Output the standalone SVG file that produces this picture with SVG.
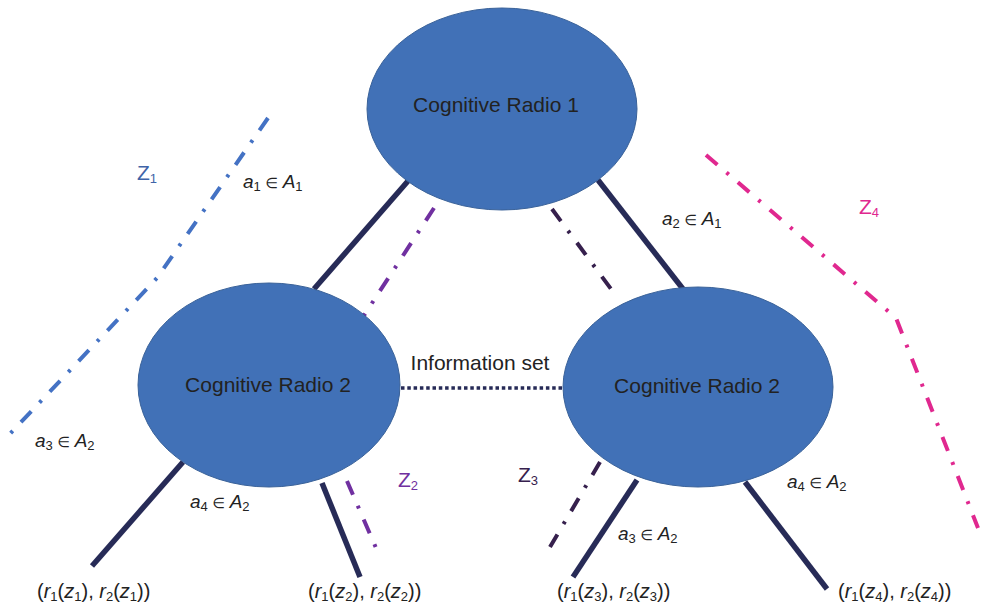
<svg xmlns="http://www.w3.org/2000/svg" width="984" height="608" viewBox="0 0 984 608">
  <style>
    .node { fill: #4171b7; stroke: #3a6299; stroke-width: 1; }
    .name { font-family: "Liberation Sans", Arial, sans-serif; font-size: 21px; fill: #222; text-anchor: middle; }
    .link { stroke: #272b57; stroke-width: 5.5; fill: none; }
    .info { stroke: #272b57; stroke-width: 3.5; stroke-dasharray: 3.5 2.8; fill: none; }
    .zone { stroke-width: 4; stroke-dasharray: 15 12 3 12; fill: none; }
    .lbl { font-family: "Liberation Sans", Arial, sans-serif; font-size: 19px; fill: #222; }
    .pay { font-family: "Liberation Sans", Arial, sans-serif; font-size: 20px; fill: #222; }
    .zl { font-family: "Liberation Sans", Arial, sans-serif; font-size: 21px; }
    .it { font-style: italic; }
    .sub { font-size: 13px; }
    .el { font-family: "DejaVu Sans", sans-serif; font-size: 14.5px; }
  </style>

  <!-- connectors: game-tree branches, zone boundaries, information set -->
  <g id="connectors">
    <line class="link" x1="408" y1="181" x2="314" y2="289"/>
    <line class="link" x1="598" y1="180" x2="683" y2="289"/>
    <line class="link" x1="183" y1="462" x2="92" y2="566"/>
    <line class="link" x1="322" y1="483" x2="360" y2="577"/>
    <line class="link" x1="637" y1="480" x2="573" y2="577"/>
    <line class="link" x1="745" y1="482" x2="827" y2="589"/>

    <line class="info" x1="401" y1="388" x2="564" y2="388"/>

    <polyline class="zone" stroke="#4472c4" points="268,118 157,278 8,436"/>
    <line class="zone" stroke="#7030a0" x1="434" y1="208" x2="361" y2="320"/>
    <line class="zone" stroke="#7030a0" x1="347" y1="481" x2="376" y2="548"/>
    <line class="zone" stroke="#36204d" x1="552" y1="209" x2="611" y2="289"/>
    <line class="zone" stroke="#36204d" x1="600" y1="462" x2="550" y2="547"/>
    <polyline class="zone" stroke="#e0288f" points="706,155 896,318 978,528"/>
  </g>

  <g id="cr1">
    <ellipse class="node" cx="502" cy="109" rx="135" ry="101"/>
    <text class="name" x="496" y="112">Cognitive Radio 1</text>
  </g>
  <g id="cr2-left">
    <ellipse class="node" cx="269" cy="385" rx="131" ry="102"/>
    <text class="name" x="268" y="392">Cognitive Radio 2</text>
  </g>
  <g id="cr2-right">
    <ellipse class="node" cx="698" cy="387" rx="135" ry="100"/>
    <text class="name" x="697" y="393">Cognitive Radio 2</text>
  </g>

  <g id="labels">
    <text class="name" x="480" y="370">Information set</text>

    <text class="lbl" x="243" y="188"><tspan class="it">a</tspan><tspan class="sub" dy="3">1</tspan><tspan class="el" dy="-3"> ∈ </tspan><tspan class="it">A</tspan><tspan class="sub" dy="3">1</tspan></text>
    <text class="lbl" x="662" y="225"><tspan class="it">a</tspan><tspan class="sub" dy="3">2</tspan><tspan class="el" dy="-3"> ∈ </tspan><tspan class="it">A</tspan><tspan class="sub" dy="3">1</tspan></text>
    <text class="lbl" x="35" y="447"><tspan class="it">a</tspan><tspan class="sub" dy="3">3</tspan><tspan class="el" dy="-3"> ∈ </tspan><tspan class="it">A</tspan><tspan class="sub" dy="3">2</tspan></text>
    <text class="lbl" x="190" y="508"><tspan class="it">a</tspan><tspan class="sub" dy="3">4</tspan><tspan class="el" dy="-3"> ∈ </tspan><tspan class="it">A</tspan><tspan class="sub" dy="3">2</tspan></text>
    <text class="lbl" x="618" y="540"><tspan class="it">a</tspan><tspan class="sub" dy="3">3</tspan><tspan class="el" dy="-3"> ∈ </tspan><tspan class="it">A</tspan><tspan class="sub" dy="3">2</tspan></text>
    <text class="lbl" x="787" y="488"><tspan class="it">a</tspan><tspan class="sub" dy="3">4</tspan><tspan class="el" dy="-3"> ∈ </tspan><tspan class="it">A</tspan><tspan class="sub" dy="3">2</tspan></text>

    <text class="zl" x="137" y="180" fill="#3f64a8">Z<tspan class="sub" dy="3">1</tspan></text>
    <text class="zl" x="398" y="487" fill="#7030a0">Z<tspan class="sub" dy="3">2</tspan></text>
    <text class="zl" x="518" y="482" fill="#36204d">Z<tspan class="sub" dy="3">3</tspan></text>
    <text class="zl" x="859" y="214" fill="#e0288f">Z<tspan class="sub" dy="3">4</tspan></text>

    <text class="pay" x="37" y="598">(<tspan class="it">r</tspan><tspan class="sub" dy="3">1</tspan><tspan dy="-3">(</tspan><tspan class="it">z</tspan><tspan class="sub" dy="3">1</tspan><tspan dy="-3">), </tspan><tspan class="it">r</tspan><tspan class="sub" dy="3">2</tspan><tspan dy="-3">(</tspan><tspan class="it">z</tspan><tspan class="sub" dy="3">1</tspan><tspan dy="-3">))</tspan></text>
    <text class="pay" x="308" y="598">(<tspan class="it">r</tspan><tspan class="sub" dy="3">1</tspan><tspan dy="-3">(</tspan><tspan class="it">z</tspan><tspan class="sub" dy="3">2</tspan><tspan dy="-3">), </tspan><tspan class="it">r</tspan><tspan class="sub" dy="3">2</tspan><tspan dy="-3">(</tspan><tspan class="it">z</tspan><tspan class="sub" dy="3">2</tspan><tspan dy="-3">))</tspan></text>
    <text class="pay" x="557" y="598">(<tspan class="it">r</tspan><tspan class="sub" dy="3">1</tspan><tspan dy="-3">(</tspan><tspan class="it">z</tspan><tspan class="sub" dy="3">3</tspan><tspan dy="-3">), </tspan><tspan class="it">r</tspan><tspan class="sub" dy="3">2</tspan><tspan dy="-3">(</tspan><tspan class="it">z</tspan><tspan class="sub" dy="3">3</tspan><tspan dy="-3">))</tspan></text>
    <text class="pay" x="838" y="598">(<tspan class="it">r</tspan><tspan class="sub" dy="3">1</tspan><tspan dy="-3">(</tspan><tspan class="it">z</tspan><tspan class="sub" dy="3">4</tspan><tspan dy="-3">), </tspan><tspan class="it">r</tspan><tspan class="sub" dy="3">2</tspan><tspan dy="-3">(</tspan><tspan class="it">z</tspan><tspan class="sub" dy="3">4</tspan><tspan dy="-3">))</tspan></text>
  </g>
</svg>
